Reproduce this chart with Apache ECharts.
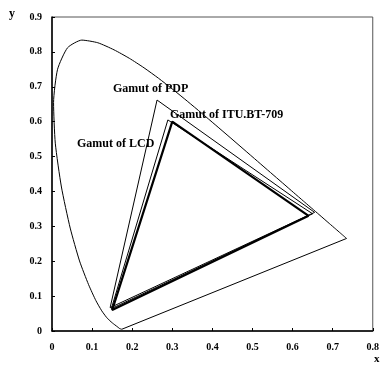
<!DOCTYPE html>
<html><head><meta charset="utf-8">
<script src="https://cdn.jsdelivr.net/npm/echarts@6/dist/echarts.min.js"></script>
<style>html,body{margin:0;padding:0;background:#fff}#c{width:382px;height:368px}</style>
</head><body><div id="c"></div>
<script>
// CIE 1931 spectral locus (x, y)
const locusX = [0.1741,0.1689,0.1644,0.1566,0.1510,0.1440,0.1355,0.1241,0.1096,0.0913,0.0687,0.0454,0.0235,0.0082,0.0039,0.0139,0.0389,0.0743,0.1142,0.1547,0.1929,0.2296,0.2658,0.3016,0.3373,0.3731,0.4087,0.4441,0.4788,0.5125,0.5448,0.5752,0.6029,0.6270,0.6658,0.6915,0.7079,0.7190,0.7300,0.7347];
const locusY = [0.0050,0.0069,0.0109,0.0177,0.0227,0.0297,0.0399,0.0578,0.0868,0.1327,0.2007,0.2950,0.4127,0.5384,0.6548,0.7502,0.8120,0.8338,0.8262,0.8059,0.7816,0.7543,0.7243,0.6923,0.6589,0.6245,0.5896,0.5547,0.5202,0.4866,0.4544,0.4242,0.3965,0.3725,0.3340,0.3083,0.2920,0.2809,0.2700,0.2653];
// Purple line closing the horseshoe
const purpleX = [0.7347, 0.1741];
const purpleY = [0.2653, 0.0050];
// Gamut triangles (R, G, B, back to R)
const pdpX = [0.655, 0.262, 0.145, 0.655];
const pdpY = [0.340, 0.662, 0.067, 0.340];
const lcdX = [0.650, 0.289, 0.148, 0.650];
const lcdY = [0.336, 0.605, 0.064, 0.336];
const bt709X = [0.640, 0.300, 0.150, 0.640];
const bt709Y = [0.330, 0.600, 0.060, 0.330];
const labels = ['Gamut of PDP', 'Gamut of ITU.BT-709', 'Gamut of LCD'];

const zip = (a, b) => a.map((v, i) => [v, b[i]]);
const font = '"Liberation Serif","DejaVu Serif",serif';
const mk = (name, xs, ys, w, smooth) => ({
  name, type: 'line', data: zip(xs, ys), showSymbol: false, symbol: 'none', smooth: smooth || false,
  lineStyle: { color: '#000', width: w }, animation: false, silent: true
});
const chart = echarts.init(document.getElementById('c'));
chart.setOption({
  animation: false,
  grid: { left: 52, right: 6, top: 17, bottom: 37, show: true, borderColor: '#555', borderWidth: 1 },
  xAxis: {
    type: 'value', min: 0, max: 0.8, interval: 0.1,
    axisLine: { show: true, lineStyle: { color: '#000', width: 1.5 } },
    axisTick: { show: true, inside: true, length: 3, lineStyle: { color: '#000' } },
    splitLine: { show: false },
    axisLabel: { color: '#000', fontFamily: font, fontWeight: 'bold', fontSize: 10, margin: 11 }
  },
  yAxis: {
    type: 'value', min: 0, max: 0.9, interval: 0.1,
    axisLine: { show: true, lineStyle: { color: '#000', width: 1.5 } },
    axisTick: { show: true, inside: true, length: 3, lineStyle: { color: '#000' } },
    splitLine: { show: false },
    axisLabel: { color: '#000', fontFamily: font, fontWeight: 'bold', fontSize: 10, margin: 10 }
  },
  series: [
    mk('locus', locusX, locusY, 1, 0.2),
    mk('purple', purpleX, purpleY, 1),
    mk('PDP', pdpX, pdpY, 1),
    mk('LCD', lcdX, lcdY, 1),
    mk('BT709', bt709X, bt709Y, 2.2)
  ],
  graphic: [
    { type: 'text', left: 113, top: 83, style: { text: labels[0], font: 'bold 12px ' + font, fill: '#000' } },
    { type: 'text', left: 170, top: 109, style: { text: labels[1], font: 'bold 12px ' + font, fill: '#000' } },
    { type: 'text', left: 77, top: 138, style: { text: labels[2], font: 'bold 12px ' + font, fill: '#000' } },
    { type: 'text', left: 9, top: 8, style: { text: 'y', font: 'bold 12px ' + font, fill: '#000' } },
    { type: 'text', left: 374, top: 354, style: { text: 'x', font: 'bold 11px ' + font, fill: '#000' } }
  ]
});
</script></body></html>
